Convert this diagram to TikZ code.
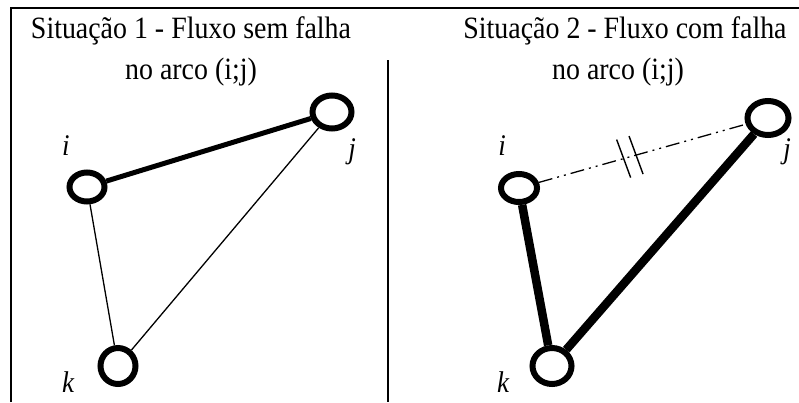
\documentclass[tikz,border=0pt]{standalone}
\usepackage{fontspec}
\setmainfont{Liberation Serif}[FakeStretch=0.9]
\usetikzlibrary{shapes.geometric,calc}
\begin{document}
\begin{tikzpicture}[x=1pt,y=-1pt,
  vtx/.style={ellipse,draw,line width=6pt,fill=white,inner sep=0pt},
  lbl/.style={font=\fontsize{30}{32}\selectfont\itshape,anchor=base,inner sep=0pt},
  ttl/.style={font=\fontsize{31}{33}\selectfont,anchor=base,inner sep=0pt},
  frameline/.style={line width=1.6pt},
  thinedge/.style={line width=1.3pt},
  medge/.style={line width=5pt},
  bigedge/.style={line width=8.5pt},
  failedge/.style={line width=1.3pt,dash pattern=on 14pt off 5pt on 2pt off 5pt on 2pt off 5pt},
  breakmark/.style={line width=1.4pt}
]
\useasboundingbox (0,0) rectangle (799,402);
% frame
\coordinate (tl) at (11,8);
\coordinate (tr) at (799,8);
\coordinate (bl) at (11,402);
\coordinate (dt) at (388,60);
\coordinate (db) at (388,402);
\draw[frameline] (bl) -- (tl) -- (tr);
\draw[frameline] (dt) -- (db);
% titles
\node[ttl] (t1a) at (191,38) {Situação 1 - Fluxo sem falha};
\node[ttl] (t1b) at (191,79) {no arco (i;j)};
\node[ttl] (t2a) at (625,38) {Situação 2 - Fluxo com falha};
\node[ttl] (t2b) at (618,79) {no arco (i;j)};
% left panel
\node[vtx,minimum width=35pt,minimum height=29pt] (i1) at (87,187) {};
\node[vtx,minimum width=39pt,minimum height=33pt] (j1) at (332,112) {};
\node[vtx,minimum width=35pt,minimum height=36pt] (k1) at (118,366) {};
\draw[medge] (i1) -- (j1);
\draw[thinedge] (i1) -- (k1);
\draw[thinedge] (k1) -- (j1);
\node[lbl] (li1) at (66,155) {i};
\node[lbl] (lj1) at (352,158) {j};
\node[lbl] (lk1) at (68,392) {k};
% right panel
\node[vtx,minimum width=36pt,minimum height=28pt] (i2) at (519,188) {};
\node[vtx,minimum width=41pt,minimum height=34pt] (j2) at (768,118) {};
\node[vtx,minimum width=39pt,minimum height=36pt] (k2) at (552,366) {};
\draw[failedge] (i2) -- (j2) coordinate[pos=0.41] (m1) coordinate[pos=0.47] (m2);
\draw[bigedge] (i2) -- (k2);
\draw[bigedge] (k2) -- (j2);
\draw[breakmark] ($(m1)+(-7,-19)$) -- ($(m1)+(7,19)$);
\draw[breakmark] ($(m2)+(-7,-19)$) -- ($(m2)+(7,19)$);
\node[lbl] (li2) at (502,155) {i};
\node[lbl] (lj2) at (787,158) {j};
\node[lbl] (lk2) at (503,392) {k};
\end{tikzpicture}
\end{document}
